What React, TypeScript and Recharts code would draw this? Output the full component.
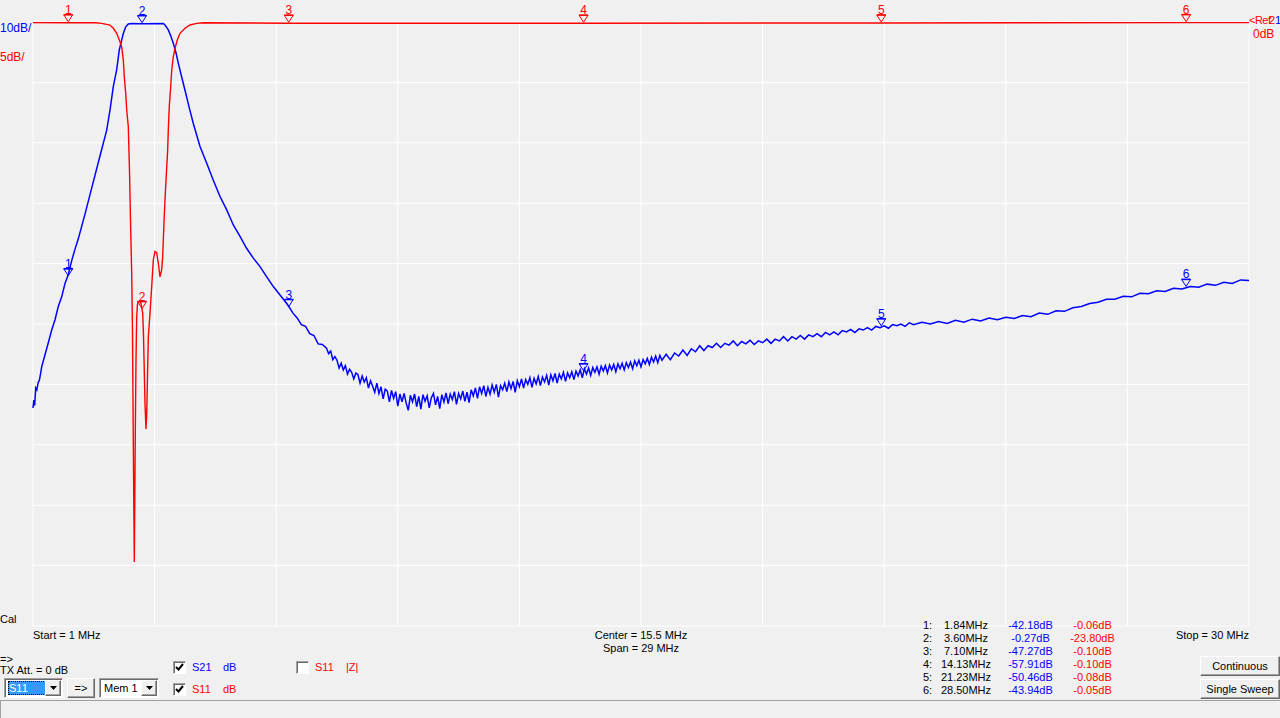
import React from 'react';
import { ComposedChart, Line, Scatter, XAxis, YAxis, CartesianGrid } from 'recharts';

// sweep 1..30 MHz, S21 at 10 dB/div, S11 at 5 dB/div, both ref 0 dB at top
const freqTicks = [1, 3.9, 6.8, 9.7, 12.6, 15.5, 18.4, 21.3, 24.2, 27.1, 30];
const s21Ticks = [-100, -90, -80, -70, -60, -50, -40, -30, -20, -10, 0];
const s11Ticks = [-50, -45, -40, -35, -30, -25, -20, -15, -10, -5, 0];

// S21 trace [MHz, dB]
const s21Trace: [number, number][] = [
  [1.0, -63.9], [1.02, -62.6], [1.04, -63.5], [1.064, -60.6], [1.09, -60.9], [1.126, -59.6], [1.15, -59.4],
  [1.184, -58.1], [1.207, -57.1], [1.286, -55.1], [1.365, -53.1], [1.446, -51.0], [1.525, -49.3],
  [1.603, -47.1], [1.684, -45.5], [1.763, -43.3], [1.842, -41.8], [1.923, -39.5], [2.002, -37.6],
  [2.08, -35.9], [2.24, -31.8], [2.407, -27.3], [2.574, -22.8], [2.758, -17.9], [2.836, -14.6],
  [2.915, -10.7], [2.996, -7.9], [3.058, -4.6], [3.115, -3.0], [3.154, -1.9], [3.211, -0.8],
  [3.273, -0.33], [3.354, -0.25], [3.6, -0.27], [4.108, -0.25], [4.148, -0.5], [4.227, -1.3],
  [4.291, -2.4], [4.346, -3.5], [4.41, -5.1], [4.465, -6.8], [4.546, -9.1], [4.625, -11.3],
  [4.72, -14.0], [4.823, -16.8], [4.983, -20.6], [5.143, -23.4], [5.3, -26.2], [5.46, -28.9],
  [5.62, -31.1], [5.777, -33.6], [5.937, -35.5], [6.097, -37.5], [6.254, -39.1], [6.414, -40.5],
  [6.574, -42.2], [6.731, -43.8], [6.891, -45.2], [7.05, -46.6], [7.1, -47.1], [7.2, -48.2],
  [7.3, -49.0], [7.4, -50.1], [7.5, -50.4], [7.6, -51.6], [7.7, -51.9], [7.8, -53.3], [7.9, -53.4],
  [8.0, -54.0], [8.05, -54.9], [8.1, -54.5], [8.15, -55.9], [8.2, -55.4], [8.25, -56.0], [8.3, -57.3],
  [8.35, -56.5], [8.4, -57.6], [8.45, -56.9], [8.5, -58.3], [8.55, -57.5], [8.6, -58.0], [8.65, -59.1],
  [8.7, -58.1], [8.75, -58.4], [8.8, -59.8], [8.85, -58.6], [8.9, -59.6], [8.95, -58.9], [9.0, -60.6],
  [9.05, -59.4], [9.1, -60.3], [9.15, -61.3], [9.2, -59.8], [9.25, -61.5], [9.3, -60.4], [9.35, -62.4],
  [9.4, -60.8], [9.45, -61.1], [9.5, -62.9], [9.55, -61.0], [9.6, -62.3], [9.65, -61.2], [9.7, -63.6],
  [9.75, -61.6], [9.8, -62.9], [9.85, -61.5], [9.9, -63.1], [9.95, -64.3], [10.0, -61.8], [10.05, -62.9],
  [10.1, -61.6], [10.15, -63.7], [10.2, -62.0], [10.25, -64.1], [10.3, -61.7], [10.35, -62.8],
  [10.4, -61.9], [10.45, -63.9], [10.5, -62.2], [10.55, -61.5], [10.6, -63.4], [10.65, -62.0],
  [10.7, -64.0], [10.75, -61.7], [10.8, -62.9], [10.85, -61.4], [10.9, -63.2], [10.95, -61.6],
  [11.0, -62.5], [11.05, -61.2], [11.1, -63.3], [11.15, -61.5], [11.2, -62.4], [11.25, -61.1],
  [11.3, -62.8], [11.35, -61.3], [11.4, -63.0], [11.45, -60.9], [11.5, -61.9], [11.55, -60.6],
  [11.6, -62.3], [11.65, -60.4], [11.7, -61.5], [11.75, -60.2], [11.8, -62.0], [11.85, -60.5],
  [11.9, -61.6], [11.95, -60.1], [12.0, -61.3], [12.05, -60.0], [12.1, -62.1], [12.15, -60.2],
  [12.2, -60.9], [12.25, -59.8], [12.3, -61.2], [12.35, -59.6], [12.4, -60.7], [12.45, -59.5],
  [12.5, -61.3], [12.55, -59.4], [12.6, -60.4], [12.65, -59.1], [12.7, -60.6], [12.75, -59.2],
  [12.8, -60.0], [12.85, -58.9], [12.9, -60.5], [12.95, -59.0], [13.0, -59.9], [13.05, -58.7],
  [13.1, -60.2], [13.15, -58.8], [13.2, -59.6], [13.25, -58.5], [13.3, -60.1], [13.35, -58.4],
  [13.4, -59.4], [13.45, -58.2], [13.5, -59.8], [13.55, -58.3], [13.6, -59.1], [13.65, -58.0],
  [13.7, -59.5], [13.75, -58.1], [13.8, -58.9], [13.85, -57.9], [13.9, -59.2], [13.95, -57.8],
  [14.0, -58.6], [14.05, -57.6], [14.1, -58.9], [14.15, -57.4], [14.2, -58.3], [14.25, -57.3],
  [14.3, -58.5], [14.35, -57.2], [14.4, -58.0], [14.45, -57.1], [14.5, -58.3], [14.55, -57.0],
  [14.6, -57.8], [14.65, -56.9], [14.7, -58.1], [14.75, -56.8], [14.8, -57.6], [14.85, -56.7],
  [14.9, -57.9], [14.95, -56.6], [15.0, -57.4], [15.05, -56.5], [15.1, -57.6], [15.15, -56.4],
  [15.2, -57.2], [15.25, -56.3], [15.3, -57.4], [15.35, -56.1], [15.4, -56.9], [15.45, -56.0],
  [15.5, -57.1], [15.55, -55.9], [15.6, -56.6], [15.65, -55.7], [15.7, -56.7], [15.75, -55.5],
  [15.8, -56.3], [15.85, -55.3], [15.9, -56.4], [15.95, -55.2], [16.0, -56.0],
  [16.1, -55.0], [16.2, -55.9], [16.3, -54.8], [16.4, -55.3], [16.5, -54.3], [16.6, -55.2],
  [16.7, -54.1], [16.8, -54.6], [16.9, -53.6], [17.0, -54.4], [17.1, -53.6], [17.2, -53.9],
  [17.3, -53.2], [17.4, -53.9], [17.5, -53.2], [17.6, -53.5], [17.7, -52.8], [17.8, -53.6],
  [17.9, -52.9], [18.0, -53.3], [18.1, -52.7], [18.2, -53.4], [18.3, -52.8], [18.4, -53.1],
  [18.5, -52.5], [18.6, -53.2], [18.7, -52.5], [18.8, -52.8], [18.9, -52.1], [19.0, -52.8],
  [19.1, -52.1], [19.2, -52.5], [19.3, -51.9], [19.4, -52.5], [19.5, -51.8], [19.6, -52.1],
  [19.7, -51.6], [19.8, -52.1], [19.9, -51.4], [20.0, -51.8], [20.1, -51.3], [20.2, -51.8],
  [20.3, -51.1], [20.4, -51.3], [20.5, -50.9], [20.6, -51.4], [20.7, -50.8], [20.8, -51.0],
  [20.9, -50.6], [21.0, -51.0], [21.1, -50.4], [21.2, -50.6], [21.3, -50.3], [21.4, -50.7],
  [21.5, -50.1], [21.6, -50.3], [21.7, -50.0], [21.8, -50.4], [21.9, -49.8], [22.0, -50.1],
  [22.2, -49.7], [22.4, -50.0], [22.6, -49.6], [22.8, -49.9], [23.0, -49.4], [23.2, -49.7],
  [23.4, -49.2], [23.6, -49.5], [23.8, -49.0], [24.0, -49.3], [24.2, -48.9], [24.4, -49.1],
  [24.6, -48.6], [24.8, -48.8], [25.0, -48.2], [25.2, -48.4], [25.4, -47.8], [25.6, -47.9],
  [25.8, -47.3], [26.0, -47.1], [26.2, -46.6], [26.4, -46.4], [26.6, -45.9], [26.8, -45.9],
  [27.0, -45.4], [27.2, -45.5], [27.4, -44.9], [27.6, -45.0], [27.8, -44.5], [28.0, -44.6],
  [28.2, -44.1], [28.4, -44.2], [28.6, -43.8], [28.8, -43.9], [29.0, -43.4], [29.2, -43.6],
  [29.4, -43.1], [29.6, -43.3], [29.8, -42.7], [30.0, -42.8],
];

// S11 trace [MHz, dB]
const s11Trace: [number, number][] = [
  [1.0, -0.05], [1.84, -0.06], [2.5, -0.06], [2.638, -0.11], [2.836, -0.25], [2.915, -0.52],
  [2.996, -0.94], [3.058, -1.49], [3.115, -2.04], [3.154, -3.15], [3.177, -4.53], [3.211, -5.9],
  [3.235, -7.28], [3.273, -8.67], [3.301, -12.25], [3.325, -16.4], [3.354, -20.8], [3.373, -25.8],
  [3.392, -34.9], [3.416, -44.7], [3.44, -33.9], [3.456, -28.1], [3.472, -24.5], [3.49, -23.4],
  [3.511, -23.2], [3.55, -23.1], [3.576, -23.3], [3.6, -23.8], [3.616, -24.1], [3.635, -25.9],
  [3.647, -27.8], [3.671, -31.6], [3.695, -33.7], [3.712, -32.4], [3.75, -26.1], [3.79, -24.1],
  [3.831, -21.9], [3.869, -19.7], [3.91, -19.0], [3.95, -19.1], [3.988, -19.95], [4.029, -21.1],
  [4.069, -20.5], [4.093, -19.4], [4.124, -16.6], [4.148, -14.7], [4.189, -12.0], [4.212, -10.6],
  [4.227, -8.9], [4.25, -7.0], [4.284, -5.36], [4.308, -3.97], [4.346, -2.87], [4.387, -2.18],
  [4.441, -1.49], [4.506, -0.94], [4.625, -0.52], [4.744, -0.25], [4.904, -0.11], [5.062, -0.06],
  [7.1, -0.1], [14.13, -0.1], [21.23, -0.08], [28.5, -0.05], [30.0, -0.05],
];

// markers
const markerFreq = [1.84, 3.6, 7.1, 14.13, 21.23, 28.5];
const markerS21 = [-42.18, -0.27, -47.27, -57.91, -50.46, -43.94];
const markerS11 = [-0.06, -23.8, -0.1, -0.1, -0.08, -0.05];

const BLUE = '#0000ff';
const RED = '#ff0000';
const FONT = '"Liberation Sans", Arial, sans-serif';

const s21Data = s21Trace.map(([f, v]) => ({ f, v }));
const s11Data = s11Trace.map(([f, v]) => ({ f, v }));
const s21Markers = markerFreq.map((f, i) => ({ f, v: markerS21[i], n: i + 1 }));
const s11Markers = markerFreq.map((f, i) => ({ f, v: markerS11[i], n: i + 1 }));

function markerShape(color: string) {
  return (props: any) => {
    const { cx, cy, payload } = props;
    return (
      <g>
        <text x={cx} y={cy - 9} textAnchor="middle" fill={color} fontSize={12} fontFamily={FONT}>
          {payload.n}
        </text>
        <path d={`M${cx - 4.5},${cy - 8}H${cx + 4.5}L${cx},${cy - 1}Z`} fill="none" stroke={color} strokeWidth={1} />
        <line x1={cx - 4.5} x2={cx + 4.5} y1={cy - 8} y2={cy - 8} stroke={color} strokeWidth={1.5} />
      </g>
    );
  };
}

const txt = (left: number, top: number, s: string, color = '#000', extra: React.CSSProperties = {}) => (
  <div style={{ position: 'absolute', left, top, color, fontSize: 11, lineHeight: '13px', whiteSpace: 'nowrap', ...extra }}>{s}</div>
);

const raised: React.CSSProperties = {
  position: 'absolute',
  boxSizing: 'border-box',
  background: '#f0f0f0',
  borderStyle: 'solid',
  borderWidth: 1,
  borderColor: '#ffffff #696969 #696969 #ffffff',
  boxShadow: 'inset -1px -1px #a0a0a0',
  fontSize: 11,
  display: 'flex',
  alignItems: 'center',
  justifyContent: 'center',
};

const sunken: React.CSSProperties = {
  position: 'absolute',
  boxSizing: 'border-box',
  background: '#ffffff',
  borderStyle: 'solid',
  borderWidth: 1,
  borderColor: '#a0a0a0 #ffffff #ffffff #a0a0a0',
  boxShadow: 'inset 1px 1px #696969',
};

function Arrow() {
  return (
    <svg width={7} height={4} style={{ display: 'block' }}>
      <path d="M0,0H7L3.5,4Z" fill="#000" />
    </svg>
  );
}

function Check({ left, top, on }: { left: number; top: number; on: boolean }) {
  return (
    <div style={{ ...sunken, left, top, width: 13, height: 13 }}>
      {on && (
        <svg width={11} height={11} style={{ position: 'absolute', left: 0, top: 0 }}>
          <path d="M2,5 L4.5,7.5 L9,2" fill="none" stroke="#000" strokeWidth={2} />
        </svg>
      )}
    </div>
  );
}

export default function App() {
  return (
    <div style={{ position: 'fixed', left: 0, top: 0, width: 1280, height: 718, background: '#f0f0f0', overflow: 'hidden', fontFamily: FONT }}>
      <ComposedChart width={1280} height={718} margin={{ top: 22, right: 31, bottom: 92, left: 33 }} style={{ position: 'absolute', left: 0, top: 0 }}>
        <XAxis type="number" dataKey="f" domain={[1, 30]} ticks={freqTicks} hide />
        <YAxis yAxisId="s21" type="number" dataKey="v" domain={[-100, 0]} ticks={s21Ticks} hide />
        <YAxis yAxisId="s11" type="number" dataKey="v" domain={[-50, 0]} ticks={s11Ticks} hide />
        <CartesianGrid yAxisId="s21" stroke="#ffffff" strokeWidth={1} fill="none" />
        <Line yAxisId="s21" data={s21Data} dataKey="v" type="linear" stroke={BLUE} strokeWidth={1.5} dot={false} isAnimationActive={false} />
        <Line yAxisId="s11" data={s11Data} dataKey="v" type="linear" stroke={RED} strokeWidth={1.4} dot={false} isAnimationActive={false} />
        <Scatter yAxisId="s11" data={s11Markers} dataKey="v" shape={markerShape(RED)} isAnimationActive={false} />
        <Scatter yAxisId="s21" data={s21Markers} dataKey="v" shape={markerShape(BLUE)} isAnimationActive={false} />
      </ComposedChart>

      {/* scale labels */}
      <div style={{ position: 'absolute', left: 0, top: 21, fontSize: 12, lineHeight: '14px', color: BLUE }}>10dB/</div>
      <div style={{ position: 'absolute', left: 0, top: 50, fontSize: 12, lineHeight: '14px', color: RED }}>5dB/</div>
      <div style={{ position: 'absolute', left: 1249, top: 13, fontSize: 11, lineHeight: '14px', color: RED, letterSpacing: -0.5 }}>&lt;Ref</div>
      <div style={{ position: 'absolute', left: 1269, top: 13, fontSize: 11, lineHeight: '14px', color: RED }}>2</div>
      <div style={{ position: 'absolute', left: 1275, top: 13, fontSize: 11, lineHeight: '14px', color: BLUE }}>1</div>
      <div style={{ position: 'absolute', left: 1253, top: 27, fontSize: 12, lineHeight: '14px', color: RED }}>0dB</div>

      {txt(0, 613, 'Cal')}
      {txt(33, 629, 'Start = 1 MHz')}
      {txt(541, 629, 'Center = 15.5 MHz', '#000', { width: 200, textAlign: 'center' })}
      {txt(541, 642, 'Span = 29 MHz', '#000', { width: 200, textAlign: 'center' })}
      {txt(1149, 629, 'Stop = 30 MHz', '#000', { width: 100, textAlign: 'right' })}

      {/* marker table */}
      {markerFreq.map((f, i) => (
        <React.Fragment key={i}>
          {txt(923, 619 + i * 12.9, `${i + 1}:`)}
          {txt(926, 619 + i * 12.9, `${f.toFixed(2)}MHz`, '#000', { width: 80, textAlign: 'center' })}
          {txt(990, 619 + i * 12.9, `${markerS21[i].toFixed(2)}dB`, BLUE, { width: 81, textAlign: 'center' })}
          {txt(1052, 619 + i * 12.9, `${markerS11[i].toFixed(2)}dB`, RED, { width: 81, textAlign: 'center' })}
        </React.Fragment>
      ))}

      {/* controls */}
      {txt(0, 653, '=>')}
      {txt(0, 664, 'TX Att.  = 0 dB')}
      <div style={{ ...sunken, left: 4, top: 678, width: 59, height: 20 }}>
        <div style={{ position: 'absolute', left: 3, top: 2, width: 37, height: 14, background: '#3399ff', color: '#fff', fontSize: 11, lineHeight: '14px', paddingLeft: 1, outline: '1px dotted #000', outlineOffset: -1 }}>S11</div>
      </div>
      <div style={{ ...raised, left: 45, top: 680, width: 16, height: 16 }}><Arrow /></div>
      <div style={{ ...raised, left: 67, top: 678, width: 28, height: 20 }}>=&gt;</div>
      <div style={{ ...sunken, left: 99, top: 678, width: 60, height: 20 }}>
        <div style={{ position: 'absolute', left: 4, top: 2, fontSize: 11, lineHeight: '14px' }}>Mem 1</div>
      </div>
      <div style={{ ...raised, left: 141, top: 680, width: 16, height: 16 }}><Arrow /></div>

      <Check left={173} top={661} on />
      {txt(192, 661, 'S21', BLUE)}
      {txt(223, 661, 'dB', BLUE)}
      <Check left={173} top={683} on />
      {txt(192, 683, 'S11', RED)}
      {txt(223, 683, 'dB', RED)}
      <Check left={296} top={661} on={false} />
      {txt(315, 661, 'S11', RED)}
      {txt(346, 661, '|Z|', RED)}

      <div style={{ ...raised, left: 1200, top: 656, width: 80, height: 20, fontSize: 11 }}>Continuous</div>
      <div style={{ ...raised, left: 1200, top: 679, width: 80, height: 20, fontSize: 11 }}>Single Sweep</div>

      {/* status bar */}
      <div style={{ position: 'absolute', left: 0, top: 700, width: 1280, height: 18, boxSizing: 'border-box', borderTop: '1px solid #a0a0a0', borderLeft: '1px solid #a0a0a0', background: '#f0f0f0' }} />
    </div>
  );
}
